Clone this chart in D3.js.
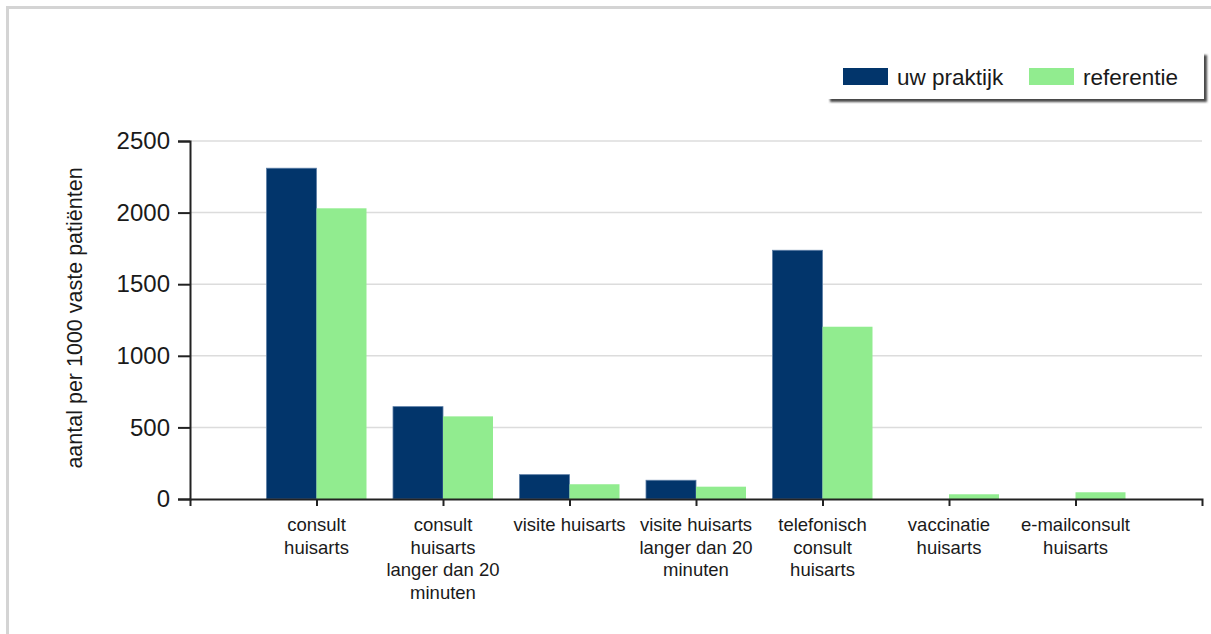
<!DOCTYPE html>
<html>
<head>
<meta charset="utf-8">
<script src="https://cdn.jsdelivr.net/npm/d3@7"></script>
<style>
  html, body { margin: 0; padding: 0; background: #fff; }
  svg { display: block; font-family: "Liberation Sans", Arial, sans-serif; }
</style>
</head>
<body>
<svg id="chart" width="1211" height="634"></svg>
<script>
// Contact types per 1000 registered patients: own practice vs. reference
const categories = [
  "consult huisarts",
  "consult huisarts langer dan 20 minuten",
  "visite huisarts",
  "visite huisarts langer dan 20 minuten",
  "telefonisch consult huisarts",
  "vaccinatie huisarts",
  "e-mailconsult huisarts"
];
const categoryLines = [
  ["consult", "huisarts"],
  ["consult", "huisarts", "langer dan 20", "minuten"],
  ["visite huisarts"],
  ["visite huisarts", "langer dan 20", "minuten"],
  ["telefonisch", "consult", "huisarts"],
  ["vaccinatie", "huisarts"],
  ["e-mailconsult", "huisarts"]
];
const seriesNames = ["uw praktijk", "referentie"];
const praktijk   = [2310, 645, 170, 131, 1737, 0, 0];
const referentie = [2030, 577, 103, 86, 1203, 33, 47];
const yTicks = [0, 500, 1000, 1500, 2000, 2500];
const yTitle = "aantal per 1000 vaste patiënten";

const colors = { "uw praktijk": "#02356b", "referentie": "#91ec8f" };
const textColor = "#1a1a1a";

const svg = d3.select("#chart");

// outer frame (top and left edges visible)
svg.append("path")
  .attr("d", "M7.5,640V7.5H1220")
  .attr("fill", "none")
  .attr("stroke", "#d4d4d4")
  .attr("stroke-width", 3);

const plotLeft = 190, plotRight = 1202, plotTop = 141, plotBottom = 499;

const x = d3.scalePoint().domain(categories).range([plotLeft, plotRight]).padding(1);
const y = d3.scaleLinear().domain([0, 2500]).range([plotBottom, plotTop]);
const groupWidth = 100;
const xs = d3.scaleBand().domain(seriesNames).range([0, groupWidth]).paddingInner(0);

// horizontal gridlines
svg.append("g")
  .selectAll("line")
  .data(yTicks.filter(d => d > 0))
  .join("line")
  .attr("x1", plotLeft).attr("x2", plotRight)
  .attr("y1", d => y(d)).attr("y2", d => y(d))
  .attr("stroke", "#dcdcdc")
  .attr("stroke-width", 1.5);

// bars
const rows = categories.map((c, i) => ({ cat: c, vals: [
  { key: seriesNames[0], v: praktijk[i] },
  { key: seriesNames[1], v: referentie[i] }
]}));

svg.append("g")
  .selectAll("g")
  .data(rows)
  .join("g")
  .attr("transform", d => `translate(${x(d.cat) - groupWidth / 2},0)`)
  .selectAll("rect")
  .data(d => d.vals.filter(e => e.v > 0))
  .join("rect")
  .attr("x", d => xs(d.key))
  .attr("width", xs.bandwidth())
  .attr("y", d => y(d.v))
  .attr("height", d => y(0) - y(d.v))
  .attr("fill", d => colors[d.key])
  .attr("stroke", d => d.key === seriesNames[0] ? "#5c7ea6" : "none")
  .attr("stroke-width", 0.8);

// y axis
const yAxis = svg.append("g")
  .attr("transform", `translate(${plotLeft},0)`)
  .call(d3.axisLeft(y).tickValues(yTicks).tickSize(12).tickSizeOuter(12).tickPadding(8).tickFormat(d3.format("d")));
yAxis.selectAll("path, line").attr("stroke", "#222").attr("stroke-width", 2);
yAxis.selectAll("text")
  .attr("font-size", 24)
  .attr("font-family", "Liberation Sans, Arial, sans-serif")
  .attr("fill", textColor);

// x axis
const xAxis = svg.append("g")
  .attr("transform", `translate(0,${plotBottom})`)
  .call(d3.axisBottom(x).tickSize(7).tickSizeOuter(7).tickFormat(""));
xAxis.selectAll("path, line").attr("stroke", "#222").attr("stroke-width", 2);

// category labels
const labels = svg.append("g")
  .attr("font-size", 18.5)
  .attr("fill", textColor)
  .attr("text-anchor", "middle");
categories.forEach((c, i) => {
  const t = labels.append("text").attr("x", x(c)).attr("y", 531);
  categoryLines[i].forEach((line, j) => {
    t.append("tspan").attr("x", x(c)).attr("dy", j === 0 ? 0 : 22.5).text(line);
  });
});

// y title
svg.append("text")
  .attr("transform", `translate(75,318) rotate(-90)`)
  .attr("text-anchor", "middle")
  .attr("dominant-baseline", "central")
  .attr("font-size", 21.5)
  .attr("fill", textColor)
  .text(yTitle);

// legend
const defs = svg.append("defs");
defs.append("filter").attr("id", "shadow").attr("x", "-5%").attr("y", "-20%").attr("width", "110%").attr("height", "150%")
  .append("feGaussianBlur").attr("stdDeviation", 1);

const legend = svg.append("g");
legend.append("rect")
  .attr("x", 830).attr("y", 55).attr("width", 377).attr("height", 47)
  .attr("fill", "#4a4a4a").attr("filter", "url(#shadow)");
legend.append("rect")
  .attr("x", 827).attr("y", 52).attr("width", 377).attr("height", 47)
  .attr("fill", "#fff");

const legendX = [843, 1029];
seriesNames.forEach((s, i) => {
  legend.append("rect")
    .attr("x", legendX[i]).attr("y", 68).attr("width", 45).attr("height", 17)
    .attr("fill", colors[s]);
  legend.append("text")
    .attr("x", legendX[i] + 54).attr("y", 77)
    .attr("dominant-baseline", "central")
    .attr("font-size", 22.5)
    .attr("fill", textColor)
    .text(s);
});
</script>
</body>
</html>
